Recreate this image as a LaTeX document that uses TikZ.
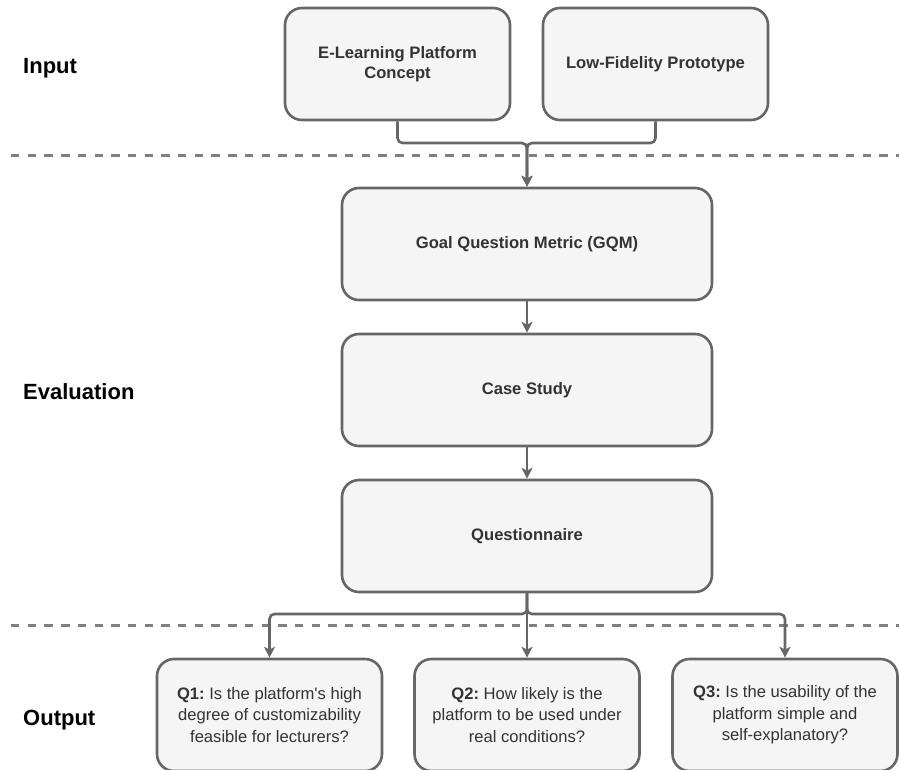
\documentclass[tikz,border=0pt]{standalone}
\usepackage{fontspec}
\setmainfont{Liberation Sans}
\usetikzlibrary{arrows.meta}
\definecolor{boxfill}{HTML}{F5F5F5}
\definecolor{boxline}{HTML}{666666}
\definecolor{boxtext}{HTML}{333333}
\definecolor{sepline}{HTML}{808080}
\frenchspacing
\begin{document}
\begin{tikzpicture}[x=1pt,y=-1pt,
  card/.style={draw=boxline, fill=boxfill, line width=2.6pt, rounded corners=17pt,
    minimum width=225pt, minimum height=112pt, inner sep=0pt, text=boxtext,
    align=center, font=\fontsize{16.6}{20}\selectfont\bfseries},
  widecard/.style={card, minimum width=370pt},
  qcard/.style={card, font=\fontsize{16.6}{21.5}\selectfont},
  flow/.style={draw=boxline, line width=2.6pt, rounded corners=5pt,
    -{Stealth[length=11pt,width=11pt,inset=3pt]}},
  sep/.style={draw=sepline, line width=3pt, dash pattern=on 8.4pt off 8.3pt},
  phase/.style={anchor=base west, inner sep=0pt, text=black,
    font=\fontsize{22}{26}\selectfont\bfseries}
]
\useasboundingbox (0,0) rectangle (899,769);

% phase separators
\coordinate (s1l) at (11,155);
\coordinate (s1r) at (899,155);
\coordinate (s2l) at (11,625);
\coordinate (s2r) at (899,625);
\draw[sep] (s1l) -- (s1r);
\draw[sep] (s2l) -- (s2r);

% phase labels
\node[phase] (lin)  at (23,73)  {Input};
\node[phase] (leva) at (23,399) {Evaluation};
\node[phase] (lout) at (23,725) {Output};

% input artefacts
\node[card] (elp) at (397.5,64) {E-Learning Platform\\Concept};
\node[card] (lfp) at (655.5,64) {Low-Fidelity Prototype};

% evaluation steps
\node[widecard] (gqm) at (527,244) {Goal Question Metric (GQM)};
\node[widecard] (cs)  at (527,390) {Case Study};
\node[widecard] (qn)  at (527,536) {Questionnaire};

% research questions
\node[qcard] (q1) at (269.5,715) {\textbf{Q1:} Is the platform\textquotesingle s high\\degree of customizability\\feasible for lecturers?};
\node[qcard] (q2) at (527,715) {\textbf{Q2:} How likely is the\\platform to be used under\\real conditions?};
\node[qcard] (q3) at (785,715) {\textbf{Q3:} Is the usability of the\\platform simple and\\self-explanatory?};

% connectors
\coordinate (join)  at (527,143);
\coordinate (split) at (527,614);
\draw[flow] (elp.south) |- (join) -- (gqm.north);
\draw[flow] (lfp.south) |- (join) -- (gqm.north);
\draw[flow] (gqm.south) -- (cs.north);
\draw[flow] (cs.south) -- (qn.north);
\draw[flow] (qn.south) -- (split) -| (q1.north);
\draw[flow] (qn.south) -- (q2.north);
\draw[flow] (qn.south) -- (split) -| (q3.north);
\end{tikzpicture}
\end{document}
